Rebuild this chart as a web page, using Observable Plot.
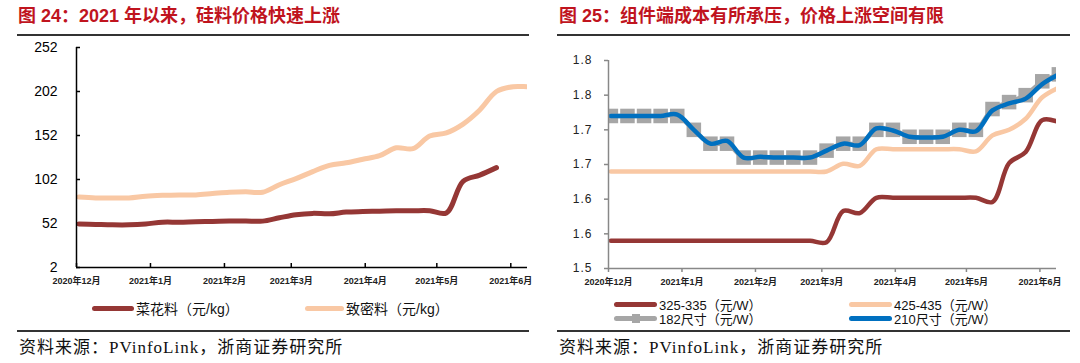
<!DOCTYPE html>
<html><head><meta charset="utf-8">
<script src="https://cdn.jsdelivr.net/npm/d3@7"></script>
<script src="https://cdn.jsdelivr.net/npm/@observablehq/plot@0.6"></script>
<style>
body{margin:0;background:#fff;}
#root{position:relative;width:1080px;height:363px;overflow:hidden;font-family:"Liberation Sans","Noto Sans CJK SC",sans-serif;}
.title{position:absolute;top:5px;font-size:18px;font-weight:bold;color:#c0141e;white-space:nowrap;line-height:22px;}
.rule{position:absolute;height:2px;background:#333;}
.src{position:absolute;top:338px;font-size:17px;line-height:20px;font-family:"Liberation Serif","Noto Sans CJK SC",serif;color:#111;white-space:nowrap;letter-spacing:1px;}
.chart{position:absolute;top:40px;}
.leg{position:absolute;display:flex;align-items:center;white-space:nowrap;color:#111;}
.sw{display:inline-block;border-radius:3px;margin-right:2px;position:relative;}
</style></head><body><div id="root">
<div class="title" style="left:18px">图 24：2021 年以来，硅料价格快速上涨</div>
<div class="title" style="left:559px">图 25：组件端成本有所承压，价格上涨空间有限</div>
<div class="rule" style="left:17px;top:34px;width:512px"></div>
<div class="rule" style="left:557px;top:34px;width:513px"></div>
<div class="chart" id="left"></div>
<div class="chart" id="right" style="left:540px"></div>
<div class="rule" style="left:17px;top:330px;width:512px"></div>
<div class="rule" style="left:557px;top:330px;width:513px"></div>
<div class="src" style="left:19px">资料来源：PVinfoLink，浙商证券研究所</div>
<div class="src" style="left:559px">资料来源：PVinfoLink，浙商证券研究所</div>
</div>
<script>
// ---- data ----
const weeks = ["2020-12-02","2020-12-09","2020-12-16","2020-12-23","2020-12-30","2021-01-06","2021-01-13","2021-01-20","2021-01-27","2021-02-03","2021-02-10","2021-02-17","2021-02-24","2021-03-03","2021-03-10","2021-03-17","2021-03-24","2021-03-31","2021-04-07","2021-04-14","2021-04-21","2021-04-28","2021-05-05","2021-05-12","2021-05-19","2021-05-26","2021-06-02","2021-06-09"];
const monthTicks = ["2020-12-01","2021-01-01","2021-02-01","2021-03-01","2021-04-01","2021-05-01","2021-06-01"];
const monthLabels = ["2020年12月","2021年1月","2021年2月","2021年3月","2021年4月","2021年5月","2021年6月"];
const xDomain = ["2020-12-01","2021-06-08"];

const leftNames = ["菜花料（元/kg）","致密料（元/kg）"];
const chunkPrice = [51.5,51,50.5,50.5,51.5,53.5,53.5,54,54.3,54.7,54.7,54.7,58.5,62,63.5,63,65,65.6,66,66.5,66.5,66.5,64,100,107,115.5];
const densePrice = [82,81,81,81,83,84,84.5,84.5,86,87.5,88,87.5,96,103,111,118,121,125,129,138,137,151.5,155,165,181,202,207.5,207];
const leftYTicks = [2,52,102,152,202,252];

const rightNames = ["325-335（元/W）","425-435（元/W）","182尺寸（元/W）","210尺寸（元/W）"];
const p325 = [1.54,1.54,1.54,1.54,1.54,1.54,1.54,1.54,1.54,1.54,1.54,1.54,1.54,1.538,1.583,1.58,1.602,1.602,1.602,1.602,1.602,1.602,1.602,1.596,1.652,1.668,1.714,1.711];
const p425 = [1.64,1.64,1.64,1.64,1.64,1.64,1.64,1.64,1.64,1.64,1.64,1.64,1.64,1.64,1.651,1.648,1.672,1.672,1.672,1.672,1.672,1.672,1.669,1.692,1.70,1.716,1.747,1.761];
const p182 = [1.72,1.72,1.72,1.72,1.72,1.70,1.68,1.68,1.66,1.66,1.66,1.66,1.66,1.67,1.68,1.68,1.70,1.70,1.69,1.69,1.69,1.70,1.70,1.73,1.74,1.75,1.77,1.78];
const p210 = [1.72,1.72,1.72,1.72,1.722,1.70,1.68,1.684,1.66,1.661,1.66,1.66,1.66,1.67,1.68,1.678,1.702,1.699,1.69,1.689,1.69,1.70,1.698,1.728,1.738,1.745,1.766,1.78];
const rightYTicks = [1.5,1.55,1.6,1.65,1.7,1.75,1.8];
const rightYLabels = ["1.5","1.6","1.6","1.7","1.7","1.8","1.8"];

const colors = {red:"#953735", peach:"#f9c8a4", gray:"#a6a6a6", blue:"#0070c0"};

// ---- helpers ----
const parse = d3.utcParse("%Y-%m-%d");
const dates = weeks.map(parse);
const table = arr => arr.map((v,i)=>({date:dates[i], value:v}));
const ticksX = monthTicks.map(parse);
const fmtMonth = d => monthLabels[ticksX.findIndex(t => +t === +d)] ?? "";
const newAxes = typeof Plot.axisX === "function";
const pad = (gap, size) => newAxes ? gap - size : gap - Math.max(size, 0);
function styleSel(svg, sel, st){ svg.querySelectorAll(sel).forEach(e => Object.assign(e.style, st)); }

// ---- left chart ----
const left = Plot.plot({
  width: 538, height: 250,
  marginLeft: 76, marginRight: 11, marginTop: 7, marginBottom: 23,
  style: {fontFamily: '"Liberation Sans","Noto Sans CJK SC",sans-serif', fontSize: "9px", color: "#000", overflow: "hidden", background: "transparent"},
  x: {type: "utc", domain: xDomain.map(parse), ticks: ticksX, tickFormat: fmtMonth, tickSize: -4, tickPadding: pad(10, -4), label: null},
  y: {domain: [2, 252], ticks: leftYTicks, tickFormat: d => String(d), tickSize: -4, tickPadding: pad(19, -4), label: null},
  marks: [
    Plot.line(table(densePrice), {x: "date", y: "value", stroke: colors.peach, strokeWidth: 5, curve: "catmull-rom", clip: true}),
    Plot.line(table(chunkPrice), {x: "date", y: "value", stroke: colors.red, strokeWidth: 5, curve: "catmull-rom", clip: true}),
    Plot.ruleX([parse(xDomain[0])], {stroke: "#000", strokeWidth: 1.5}),
    Plot.ruleY([2], {stroke: "#000", strokeWidth: 1.5})
  ]
});
styleSel(left, '[aria-label^="y-axis"] text', {fontSize: "14px", fill: "#000"});
styleSel(left, '[aria-label^="x-axis"] text', {fontSize: "9px", fill: "#222", fontWeight: "bold"});
styleSel(left, '[aria-label^="x-axis"] line, [aria-label^="y-axis"] line, [aria-label="x-axis tick"] path, [aria-label="y-axis tick"] path', {strokeWidth: "1.5px"});
document.getElementById("left").appendChild(left);

// ---- right chart ----
const right = Plot.plot({
  width: 538, height: 250,
  marginLeft: 68, marginRight: 22, marginTop: 20, marginBottom: 22,
  style: {fontFamily: '"Liberation Sans","Noto Sans CJK SC",sans-serif', fontSize: "9px", color: "#888", overflow: "hidden", background: "transparent"},
  x: {type: "utc", domain: xDomain.map(parse), ticks: ticksX, tickFormat: fmtMonth, tickSize: 4, tickPadding: pad(10, 4), label: null},
  y: {domain: [1.5, 1.8], ticks: rightYTicks, tickFormat: d => rightYLabels[rightYTicks.findIndex(t => Math.abs(t - d) < 1e-9)], tickSize: 4, tickPadding: pad(16, 4), label: null},
  marks: [
    Plot.line(table(p325), {x: "date", y: "value", stroke: colors.red, strokeWidth: 4.5, curve: "catmull-rom", clip: true}),
    Plot.line(table(p425), {x: "date", y: "value", stroke: colors.peach, strokeWidth: 4.5, curve: "catmull-rom", clip: true}),
    Plot.line(table(p182), {x: "date", y: "value", stroke: colors.gray, strokeWidth: 4.5, curve: "catmull-rom", clip: true}),
    Plot.dot(table(p182), {x: "date", y: "value", symbol: "square", r: 8.2, fill: colors.gray, stroke: "none", clip: true}),
    Plot.line(table(p210), {x: "date", y: "value", stroke: colors.blue, strokeWidth: 4.5, curve: "catmull-rom", clip: true}),
    Plot.ruleX([parse(xDomain[0])], {stroke: "#888", strokeWidth: 1.5}),
    Plot.ruleY([1.5], {stroke: "#888", strokeWidth: 1.5})
  ]
});
styleSel(right, '[aria-label^="y-axis"] text', {fontSize: "12px", fill: "#222", letterSpacing: "1px"});
styleSel(right, '[aria-label^="x-axis"] text', {fontSize: "9px", fill: "#222", fontWeight: "bold"});
styleSel(right, '[aria-label^="x-axis"] line, [aria-label^="y-axis"] line, [aria-label="x-axis tick"] path, [aria-label="y-axis tick"] path', {strokeWidth: "1.5px", stroke: "#888"});
document.getElementById("right").appendChild(right);

// ---- legends ----
function legendItem(parent, x, y, name, color, w, fs, marker){
  const d = document.createElement("div");
  d.className = "leg";
  d.style.left = x + "px"; d.style.top = (y - 9) + "px"; d.style.height = "18px"; d.style.fontSize = fs + "px";
  const s = document.createElement("span");
  s.className = "sw";
  s.style.width = w + "px"; s.style.height = "5px"; s.style.background = color;
  if (marker) {
    const m = document.createElement("span");
    m.style.cssText = `position:absolute;left:${w/2-4}px;top:-2px;width:8px;height:9px;background:${color};`;
    s.appendChild(m);
  }
  d.appendChild(s);
  const t = document.createElement("span");
  t.textContent = name;
  d.appendChild(t);
  parent.appendChild(d);
}
const root = document.getElementById("root");
legendItem(root, 92, 308, leftNames[0], colors.red, 42, 14);
legendItem(root, 305, 308, leftNames[1], colors.peach, 39, 14);
legendItem(root, 614, 304, rightNames[0], colors.red, 43, 13);
legendItem(root, 849, 304, rightNames[1], colors.peach, 43, 13);
legendItem(root, 614, 318, rightNames[2], colors.gray, 43, 13, true);
legendItem(root, 849, 318, rightNames[3], colors.blue, 43, 13);
</script>
</body></html>
